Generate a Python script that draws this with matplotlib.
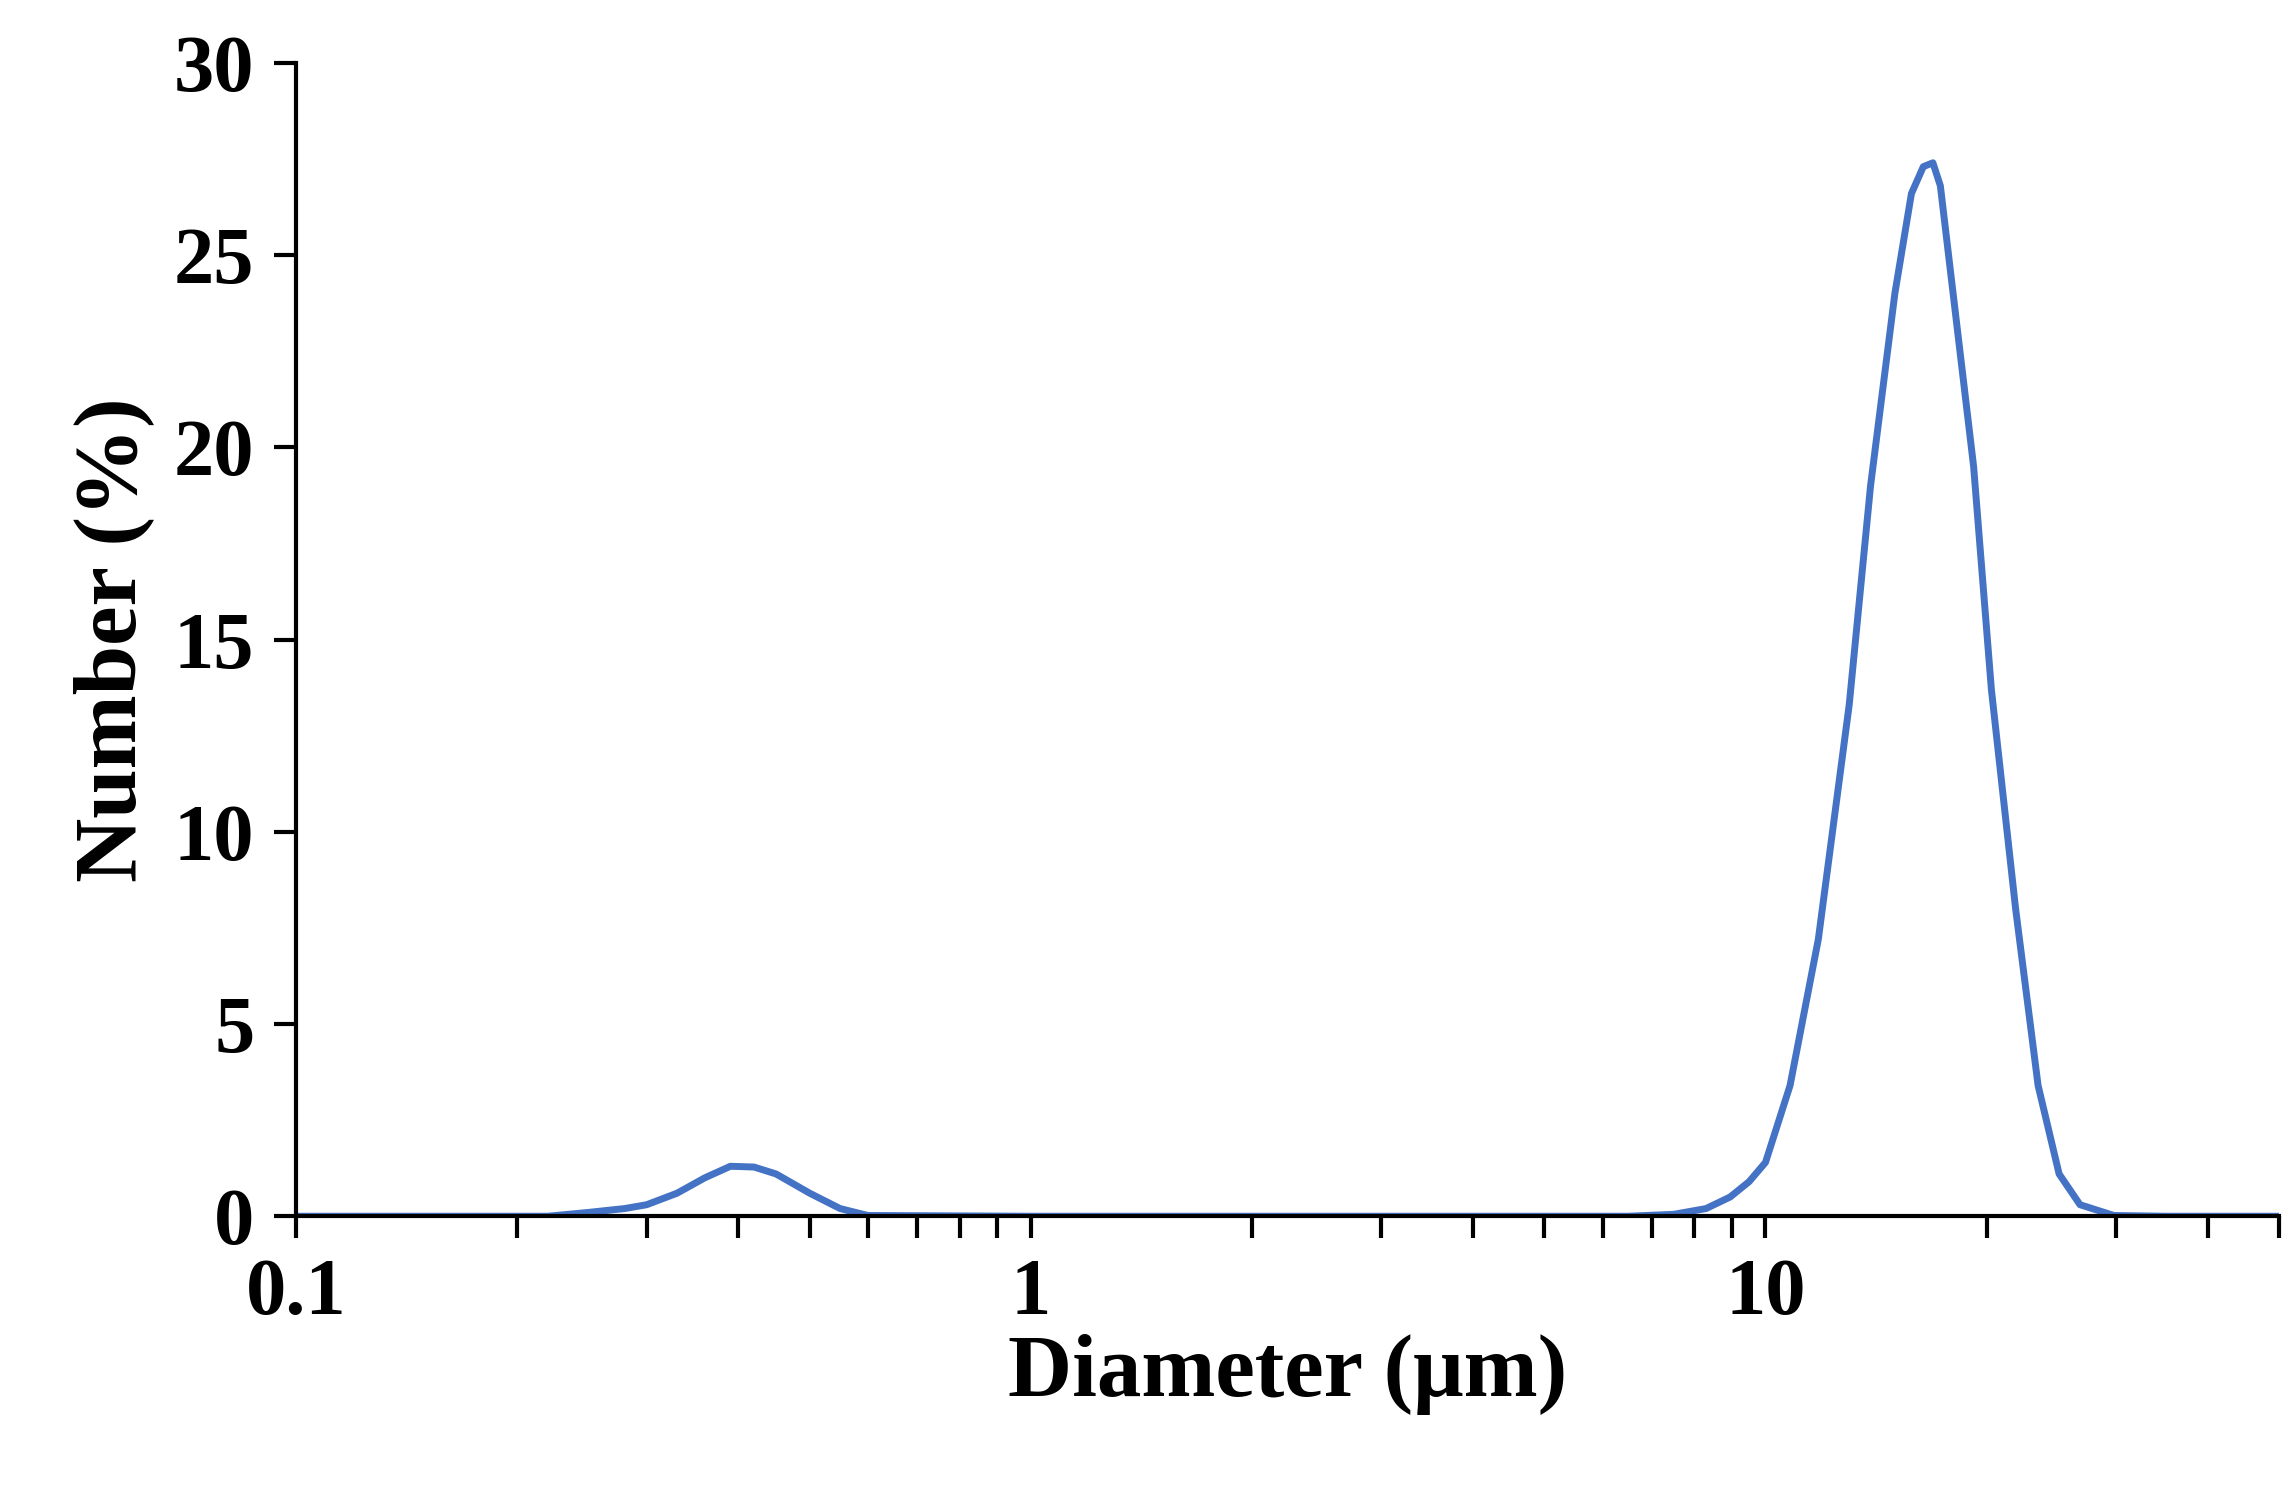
import matplotlib
matplotlib.use("Agg")
import matplotlib.pyplot as plt
from matplotlib.ticker import LogLocator, FixedLocator, NullFormatter

diameter = [0.1, 0.15, 0.2, 0.22, 0.25, 0.28, 0.30, 0.33, 0.36, 0.39, 0.42, 0.45, 0.50, 0.55, 0.60,
            1.0, 3.0, 6.5, 7.5, 8.3, 8.95, 9.5, 10.0, 10.8, 11.8, 13.0, 13.9, 15.0, 15.8, 16.4, 16.9,
            17.3, 17.8, 19.2, 20.3, 21.9, 23.5, 25.1, 26.8, 29.8, 35.0, 50.0]
number = [0, 0, 0, 0, 0.1, 0.2, 0.3, 0.6, 1.0, 1.3, 1.28, 1.1, 0.6, 0.2, 0.02,
          0, 0, 0, 0.05, 0.2, 0.5, 0.9, 1.4, 3.4, 7.2, 13.3, 19.0, 24.0, 26.6, 27.3, 27.4,
          26.8, 24.8, 19.5, 13.7, 8.0, 3.4, 1.1, 0.3, 0.02, 0, 0]

plt.rcParams['font.family'] = ['Liberation Serif', 'DejaVu Serif']
plt.rcParams['font.weight'] = 'bold'
plt.rcParams['lines.solid_joinstyle'] = 'round'
fig = plt.figure(figsize=(22.87, 14.96), dpi=100)
ax = fig.add_axes([0.1295, 0.187, 0.867, 0.771])
ax.plot(diameter, number, color='#4472C4', lw=5)
ax.set_xscale('log')
ax.set_xlim(0.1, 50)
ax.set_ylim(0, 30)
ax.set_yticks([0, 5, 10, 15, 20, 25, 30])
ax.xaxis.set_major_locator(FixedLocator([0.1, 1, 10]))
ax.set_xticklabels(['0.1', '1', '10'])
ax.xaxis.set_minor_locator(LogLocator(base=10, subs=range(2, 10)))
ax.xaxis.set_minor_formatter(NullFormatter())
for s in ['top', 'right']:
    ax.spines[s].set_visible(False)
for s in ['left', 'bottom']:
    ax.spines[s].set_linewidth(3)
ax.tick_params(axis='both', which='major', labelsize=58, width=3, length=16, pad=14)
ax.tick_params(axis='x', which='minor', width=3, length=16)
for lab in ax.get_xticklabels() + ax.get_yticklabels():
    lab.set_fontweight('bold')
ax.set_xlabel('Diameter (μm)', fontsize=64, fontweight='bold', labelpad=2)
ax.set_ylabel('Number (%)', fontsize=64, fontweight='bold', labelpad=14)
fig.savefig('out.png', dpi=100)
